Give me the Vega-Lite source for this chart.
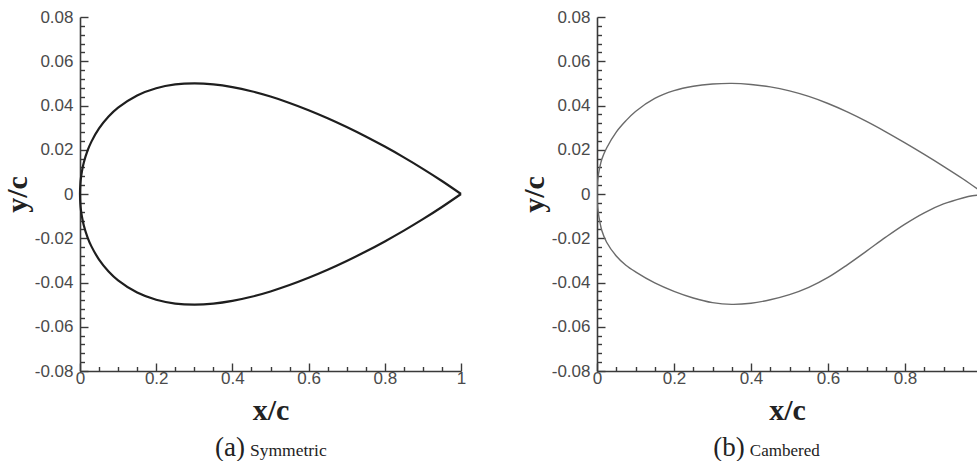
{
  "$schema": "https://vega.github.io/schema/vega-lite/v6.json",
  "background": "white",
  "padding": {"left": 2, "top": 8, "right": 0, "bottom": 0},
  "spacing": 53,
  "config": {
    "view": {"stroke": null},
    "axis": {
      "grid": false,
      "domainColor": "#3a3a3a",
      "domainWidth": 1.6,
      "tickColor": "#3a3a3a",
      "tickWidth": 1.4,
      "labelFont": "Liberation Sans",
      "labelFontSize": 17,
      "labelColor": "#4a4a4a",
      "labelOverlap": false,
      "labelFlush": false,
      "titleFont": "Liberation Serif",
      "titleFontSize": 30,
      "titleFontWeight": "bold",
      "titleColor": "#222222"
    }
  },
  "datasets": {
    "symmetric": [
      {"i": 0, "x": 1, "y": 0},
      {"i": 1, "x": 0.95, "y": 0.00587},
      {"i": 2, "x": 0.9, "y": 0.01138},
      {"i": 3, "x": 0.85, "y": 0.01656},
      {"i": 4, "x": 0.8, "y": 0.02143},
      {"i": 5, "x": 0.75, "y": 0.026},
      {"i": 6, "x": 0.7, "y": 0.03028},
      {"i": 7, "x": 0.65, "y": 0.03425},
      {"i": 8, "x": 0.6, "y": 0.03789},
      {"i": 9, "x": 0.55, "y": 0.04117},
      {"i": 10, "x": 0.5, "y": 0.04405},
      {"i": 11, "x": 0.45, "y": 0.04646},
      {"i": 12, "x": 0.4, "y": 0.04833},
      {"i": 13, "x": 0.35, "y": 0.04956},
      {"i": 14, "x": 0.3, "y": 0.05001},
      {"i": 15, "x": 0.25, "y": 0.04951},
      {"i": 16, "x": 0.2, "y": 0.04781},
      {"i": 17, "x": 0.15, "y": 0.04454},
      {"i": 18, "x": 0.1, "y": 0.03902},
      {"i": 19, "x": 0.075, "y": 0.035},
      {"i": 20, "x": 0.05, "y": 0.02962},
      {"i": 21, "x": 0.03, "y": 0.02367},
      {"i": 22, "x": 0.02, "y": 0.01967},
      {"i": 23, "x": 0.01, "y": 0.0142},
      {"i": 24, "x": 0.005, "y": 0.01018},
      {"i": 25, "x": 0.0025, "y": 0.00726},
      {"i": 26, "x": 0.001, "y": 0.00463},
      {"i": 27, "x": 0, "y": 0},
      {"i": 28, "x": 0.001, "y": -0.00463},
      {"i": 29, "x": 0.0025, "y": -0.00726},
      {"i": 30, "x": 0.005, "y": -0.01018},
      {"i": 31, "x": 0.01, "y": -0.0142},
      {"i": 32, "x": 0.02, "y": -0.01967},
      {"i": 33, "x": 0.03, "y": -0.02367},
      {"i": 34, "x": 0.05, "y": -0.02962},
      {"i": 35, "x": 0.075, "y": -0.035},
      {"i": 36, "x": 0.1, "y": -0.03902},
      {"i": 37, "x": 0.15, "y": -0.04454},
      {"i": 38, "x": 0.2, "y": -0.04781},
      {"i": 39, "x": 0.25, "y": -0.04951},
      {"i": 40, "x": 0.3, "y": -0.05001},
      {"i": 41, "x": 0.35, "y": -0.04956},
      {"i": 42, "x": 0.4, "y": -0.04833},
      {"i": 43, "x": 0.45, "y": -0.04646},
      {"i": 44, "x": 0.5, "y": -0.04405},
      {"i": 45, "x": 0.55, "y": -0.04117},
      {"i": 46, "x": 0.6, "y": -0.03789},
      {"i": 47, "x": 0.65, "y": -0.03425},
      {"i": 48, "x": 0.7, "y": -0.03028},
      {"i": 49, "x": 0.75, "y": -0.026},
      {"i": 50, "x": 0.8, "y": -0.02143},
      {"i": 51, "x": 0.85, "y": -0.01656},
      {"i": 52, "x": 0.9, "y": -0.01138},
      {"i": 53, "x": 0.95, "y": -0.00587},
      {"i": 54, "x": 1, "y": 0}
    ],
    "cambered": [
      {"i": 0, "x": 1, "y": 0.0008},
      {"i": 1, "x": 0.95, "y": 0.0069},
      {"i": 2, "x": 0.9, "y": 0.0125},
      {"i": 3, "x": 0.85, "y": 0.0179},
      {"i": 4, "x": 0.8, "y": 0.0231},
      {"i": 5, "x": 0.75, "y": 0.0281},
      {"i": 6, "x": 0.7, "y": 0.0328},
      {"i": 7, "x": 0.65, "y": 0.0371},
      {"i": 8, "x": 0.6, "y": 0.0409},
      {"i": 9, "x": 0.55, "y": 0.0441},
      {"i": 10, "x": 0.5, "y": 0.0466},
      {"i": 11, "x": 0.45, "y": 0.0484},
      {"i": 12, "x": 0.4, "y": 0.0495},
      {"i": 13, "x": 0.35, "y": 0.05},
      {"i": 14, "x": 0.3, "y": 0.0497},
      {"i": 15, "x": 0.25, "y": 0.0487},
      {"i": 16, "x": 0.2, "y": 0.0467},
      {"i": 17, "x": 0.15, "y": 0.0432},
      {"i": 18, "x": 0.1, "y": 0.0373},
      {"i": 19, "x": 0.075, "y": 0.0331},
      {"i": 20, "x": 0.05, "y": 0.028},
      {"i": 21, "x": 0.025, "y": 0.0208},
      {"i": 22, "x": 0.0125, "y": 0.0157},
      {"i": 23, "x": 0.005, "y": 0.0101},
      {"i": 24, "x": 0.0025, "y": 0.0073},
      {"i": 25, "x": 0.001, "y": 0.0046},
      {"i": 26, "x": 0, "y": 0},
      {"i": 27, "x": 0.001, "y": -0.0046},
      {"i": 28, "x": 0.0025, "y": -0.0073},
      {"i": 29, "x": 0.005, "y": -0.0103},
      {"i": 30, "x": 0.0125, "y": -0.0165},
      {"i": 31, "x": 0.025, "y": -0.0218},
      {"i": 32, "x": 0.05, "y": -0.028},
      {"i": 33, "x": 0.075, "y": -0.0322},
      {"i": 34, "x": 0.1, "y": -0.0352},
      {"i": 35, "x": 0.15, "y": -0.0402},
      {"i": 36, "x": 0.2, "y": -0.044},
      {"i": 37, "x": 0.25, "y": -0.047},
      {"i": 38, "x": 0.3, "y": -0.0491},
      {"i": 39, "x": 0.35, "y": -0.0499},
      {"i": 40, "x": 0.4, "y": -0.0494},
      {"i": 41, "x": 0.45, "y": -0.0478},
      {"i": 42, "x": 0.5, "y": -0.0455},
      {"i": 43, "x": 0.55, "y": -0.0422},
      {"i": 44, "x": 0.6, "y": -0.0377},
      {"i": 45, "x": 0.65, "y": -0.032},
      {"i": 46, "x": 0.7, "y": -0.0258},
      {"i": 47, "x": 0.75, "y": -0.0195},
      {"i": 48, "x": 0.8, "y": -0.0136},
      {"i": 49, "x": 0.85, "y": -0.0085},
      {"i": 50, "x": 0.9, "y": -0.0045},
      {"i": 51, "x": 0.95, "y": -0.0018},
      {"i": 52, "x": 0.975, "y": -0.0008},
      {"i": 53, "x": 1, "y": -0.0004}
    ],
    "captionA": [{"tag": "(a)", "name": "Symmetric"}],
    "captionB": [{"tag": "(b)", "name": "Cambered"}]
  },
  "hconcat": [
    {
      "width": 381,
      "height": 354,
      "resolve": {"axis": {"x": "independent", "y": "independent"}},
      "layer": [
        {
          "data": {"name": "symmetric"},
          "mark": {"type": "line", "color": "#1e1e1e", "strokeWidth": 2.2, "interpolate": "catmull-rom"},
          "encoding": {
            "x": {
              "field": "x", "type": "quantitative",
              "scale": {"domain": [0, 1], "nice": false, "zero": false},
              "axis": {
                "orient": "bottom", "title": "x/c",
                "values": [0, 0.2, 0.4, 0.6, 0.8, 1],
                "labelExpr": "datum.value==0||datum.value==1 ? format(datum.value,'d') : format(datum.value,'.1f')",
                "tickSize": -8, "labelPadding": 7.5, "titlePadding": 8.5, "labelOverlap": false
              }
            },
            "y": {
              "field": "y", "type": "quantitative",
              "scale": {"domain": [-0.08, 0.08], "nice": false, "zero": false},
              "axis": {
                "orient": "left", "title": "y/c",
                "values": [-0.08, -0.06, -0.04, -0.02, 0, 0.02, 0.04, 0.06, 0.08],
                "labelExpr": "abs(datum.value)<0.0001 ? '0' : (datum.value<0 ? '-' : '') + format(abs(datum.value),'.2f')",
                "tickSize": -8, "labelPadding": 15, "titlePadding": 2, "labelOverlap": false
              }
            },
            "order": {"field": "i", "type": "quantitative"}
          }
        },
        {
          "data": {"name": "captionA"},
          "mark": {"type": "text", "align": "right", "baseline": "alphabetic", "font": "Liberation Serif", "fontSize": 27, "color": "#222222"},
          "encoding": {
            "x": {
              "datum": 0.433, "type": "quantitative",
              "axis": {
                "orient": "bottom", "title": null, "labels": false, "domain": false, "tickSize": -4.5,
                "values": [0.05, 0.1, 0.15, 0.25, 0.3, 0.35, 0.45, 0.5, 0.55, 0.65, 0.7, 0.75, 0.85, 0.9, 0.95]
              }
            },
            "y": {
              "datum": -0.1184, "type": "quantitative",
              "axis": {
                "orient": "left", "title": null, "labels": false, "domain": false, "tickSize": -4.5,
                "values": [-0.076, -0.072, -0.068, -0.064, -0.056, -0.052, -0.048, -0.044, -0.036, -0.032, -0.028, -0.024, -0.016, -0.012, -0.008, -0.004, 0.004, 0.008, 0.012, 0.016, 0.024, 0.028, 0.032, 0.036, 0.044, 0.048, 0.052, 0.056, 0.064, 0.068, 0.072, 0.076]
              }
            },
            "text": {"field": "tag"}
          }
        },
        {
          "data": {"name": "captionA"},
          "mark": {"type": "text", "align": "left", "baseline": "alphabetic", "font": "Liberation Serif", "fontSize": 17.5, "color": "#222222"},
          "encoding": {
            "x": {"datum": 0.446, "type": "quantitative", "axis": null},
            "y": {"datum": -0.1184, "type": "quantitative", "axis": null},
            "text": {"field": "name"}
          }
        }
      ]
    },
    {
      "width": 380,
      "height": 354,
      "resolve": {"axis": {"x": "independent", "y": "independent"}},
      "layer": [
        {
          "data": {"name": "cambered"},
          "mark": {"type": "line", "color": "#6a6a6a", "strokeWidth": 1.4, "interpolate": "catmull-rom", "clip": true},
          "encoding": {
            "x": {
              "field": "x", "type": "quantitative",
              "scale": {"domain": [0, 0.987], "nice": false, "zero": false},
              "axis": {
                "orient": "bottom", "title": "x/c",
                "values": [0, 0.2, 0.4, 0.6, 0.8],
                "labelExpr": "datum.value==0 ? '0' : format(datum.value,'.1f')",
                "tickSize": -8, "labelPadding": 7.5, "titlePadding": 8.5, "labelOverlap": false
              }
            },
            "y": {
              "field": "y", "type": "quantitative",
              "scale": {"domain": [-0.08, 0.08], "nice": false, "zero": false},
              "axis": {
                "orient": "left", "title": "y/c",
                "values": [-0.08, -0.06, -0.04, -0.02, 0, 0.02, 0.04, 0.06, 0.08],
                "labelExpr": "abs(datum.value)<0.0001 ? '0' : (datum.value<0 ? '-' : '') + format(abs(datum.value),'.2f')",
                "tickSize": -8, "labelPadding": 15, "titlePadding": 2, "labelOverlap": false
              }
            },
            "order": {"field": "i", "type": "quantitative"}
          }
        },
        {
          "data": {"name": "captionB"},
          "mark": {"type": "text", "align": "right", "baseline": "alphabetic", "font": "Liberation Serif", "fontSize": 27, "color": "#222222"},
          "encoding": {
            "x": {
              "datum": 0.384, "type": "quantitative",
              "axis": {
                "orient": "bottom", "title": null, "labels": false, "domain": false, "tickSize": -4.5,
                "values": [0.05, 0.1, 0.15, 0.25, 0.3, 0.35, 0.45, 0.5, 0.55, 0.65, 0.7, 0.75, 0.85, 0.9, 0.95]
              }
            },
            "y": {
              "datum": -0.1184, "type": "quantitative",
              "axis": {
                "orient": "left", "title": null, "labels": false, "domain": false, "tickSize": -4.5,
                "values": [-0.076, -0.072, -0.068, -0.064, -0.056, -0.052, -0.048, -0.044, -0.036, -0.032, -0.028, -0.024, -0.016, -0.012, -0.008, -0.004, 0.004, 0.008, 0.012, 0.016, 0.024, 0.028, 0.032, 0.036, 0.044, 0.048, 0.052, 0.056, 0.064, 0.068, 0.072, 0.076]
              }
            },
            "text": {"field": "tag"}
          }
        },
        {
          "data": {"name": "captionB"},
          "mark": {"type": "text", "align": "left", "baseline": "alphabetic", "font": "Liberation Serif", "fontSize": 17, "color": "#222222"},
          "encoding": {
            "x": {"datum": 0.397, "type": "quantitative", "axis": null},
            "y": {"datum": -0.1184, "type": "quantitative", "axis": null},
            "text": {"field": "name"}
          }
        }
      ]
    }
  ]
}
